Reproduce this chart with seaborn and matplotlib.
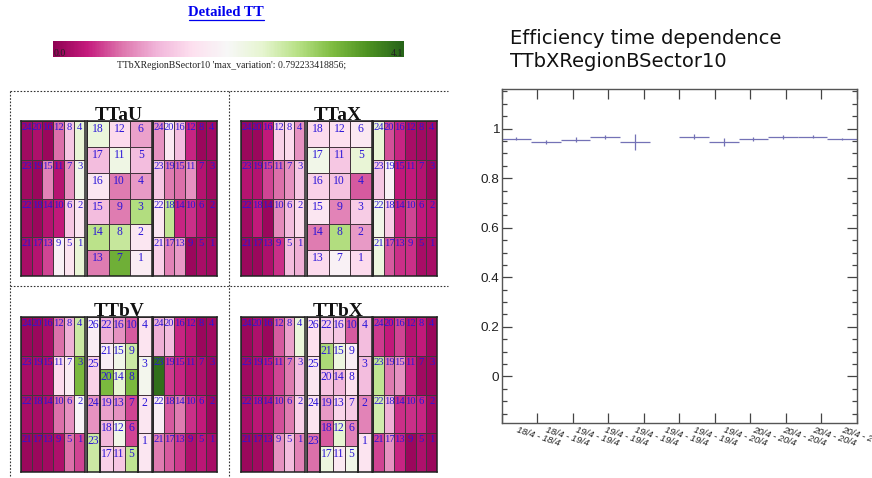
import numpy as np
import matplotlib
matplotlib.use("Agg")
import matplotlib.pyplot as plt
from matplotlib.lines import Line2D
from matplotlib.cm import ScalarMappable
from matplotlib.colors import Normalize
from matplotlib.ticker import MultipleLocator
import seaborn as sns

W, H = 872, 478
SCALE_MAX = 4.1

# cell numbers
side_labels = [[24, 20, 16, 12, 8, 4], [23, 19, 15, 11, 7, 3], [22, 18, 14, 10, 6, 2], [21, 17, 13, 9, 5, 1]]
mid_a_labels = [[18, 12, 6], [17, 11, 5], [16, 10, 4], [15, 9, 3], [14, 8, 2], [13, 7, 1]]
mid_b_labels = [[22, 16, 10], [21, 15, 9], [20, 14, 8], [19, 13, 7], [18, 12, 6], [17, 11, 5]]
outer_left_labels = [[26], [25], [24], [23]]
outer_right_labels = [[4], [3], [2], [1]]

# TTaU
tau_left = [[.15, .25, .1, .8, 1.4, 2.4], [.15, .1, .9, .3, 1.0, 2.2], [.15, .1, .3, .4, 1.4, 1.75], [.2, .3, .6, 1.95, 1.7, 2.4]]
tau_mid = [[2.35, 1.6, 1.1], [1.3, 2.25, 1.3], [1.75, .85, 1.05], [1.3, .85, 2.9], [2.85, 2.75, 1.75], [.85, 3.4, 1.85]]
tau_right = [[1.0, 1.8, 1.3, .45, .1, .15], [1.4, .85, .8, 1.0, .3, .15], [1.75, 2.8, .45, .5, .3, .1], [1.5, .9, 1.05, .1, .2, .15]]

# TTaX
tax_left = [[.1, .1, .4, 1.5, 1.6, 1.0], [.3, .3, .6, .8, 1.0, 1.4], [.15, .4, .1, .95, 1.3, 1.6], [.1, .1, .25, .5, 1.3, 1.2]]
tax_mid = [[1.6, 1.65, 1.8], [2.2, 1.4, 2.4], [1.5, 1.35, .7], [1.75, .9, 1.45], [.85, 2.9, 1.05], [1.6, 1.95, 1.6]]
tax_right = [[2.4, .65, .45, .2, .15, .15], [1.4, 1.95, .4, .4, .3, .1], [2.2, 1.45, .45, .6, .4, .3], [2.3, .7, .5, .5, .2, .2]]

# TTbV
tbv_left = [[.1, .1, .2, .8, 1.2, 2.7], [.2, .2, .25, 1.6, 1.85, 3.3], [.2, .2, .25, .8, 1.0, 2.0], [.1, .1, .15, .25, .8, .6]]
tbv_outer_l = [[1.9], [1.5], [1.0], [2.7]]
tbv_mid = [[1.2, 1.0, .7], [1.9, 2.2, 2.7], [3.3, 2.45, 3.3], [1.1, 1.0, .6], [1.25, 2.2, .6], [1.5, 1.4, 2.8]]
tbv_outer_r = [[1.7], [2.15], [1.75], [1.75]]
tbv_right = [[1.2, 1.3, .45, .35, .1, .15], [4.0, .55, .45, .3, .25, .1], [1.9, .7, .85, .5, .4, .1], [.85, .7, .55, .25, .35, .2]]

# TTbX
tbx_left = [[.1, .25, .1, .7, 1.1, 2.35], [.15, .25, .35, .6, .85, 1.3], [.2, .35, .3, .65, .85, 1.5], [.1, .15, .2, 1.0, 1.3, .9]]
tbx_outer_l = [[1.65], [1.75], [1.7], [.8]]
tbx_mid = [[1.45, 1.4, .7], [2.95, 2.3, 1.9], [1.35, 1.25, 1.65], [1.05, 1.55, 1.45], [.7, 2.45, .9], [2.3, 1.8, 2.2]]
tbx_outer_r = [[1.3], [1.3], [.9], [1.7]]
tbx_right = [[.55, .4, .6, .3, .4, .1], [2.8, .85, 1.0, .45, .15, .1], [2.65, 1.2, .5, .5, .45, .15], [.6, 1.0, .45, .1, .25, .1]]

# efficiency per time bin (bin 6 has no measurement)
eff_values = [.96, .948, .956, .965, .946, np.nan, .968, .946, .96, .968, .968, .958]
eff_errors = [.007, .008, .011, .008, .032, np.nan, .009, .018, .008, .008, .006, .005]
time_labels = ["18/4 - 18/4", "18/4 - 19/4", "19/4 - 19/4", "19/4 - 19/4", "19/4 - 19/4", "19/4 - 19/4",
               "19/4 - 19/4", "19/4 - 20/4", "20/4 - 20/4", "20/4 - 20/4", "20/4 - 20/4", "20/4 - 20/4"]
y_ticks = [0, .2, .4, .6, .8, 1]

sns.set_theme(style="white")
plt.rcParams['font.family'] = ['Liberation Serif', 'DejaVu Sans']

fig = plt.figure(figsize=(W / 100, H / 100), dpi=100)


def px_axes(x0, y0, x1, y1):
    return fig.add_axes([x0 / W, 1 - y1 / H, (x1 - x0) / W, (y1 - y0) / H])


def block(x0, y0, x1, y1, vals, labels, size=8.4):
    ax = px_axes(x0, y0, x1, y1)
    sns.heatmap(np.array(vals), cmap="PiYG", vmin=0, vmax=SCALE_MAX, cbar=False, ax=ax,
                linewidths=.6, linecolor="#44343e", xticklabels=False, yticklabels=False)
    for i, row in enumerate(labels):
        for j, lab in enumerate(row):
            ax.annotate(str(lab), xy=(j + .5, i), xytext=(0, -1.5), textcoords="offset points",
                        ha="center", va="top", fontsize=size, color="#2a14d8")
    for s in ax.spines.values():
        s.set_visible(True)
        s.set_color("#222222")
        s.set_linewidth(1.1)
    return ax


def panel_a(x, y0, left, mid, right):
    block(x, y0, x + 64, y0 + 155, left, side_labels, size=7.6)
    block(x + 66, y0, x + 130.5, y0 + 155, mid, mid_a_labels)
    block(x + 132, y0, x + 196, y0 + 155, right, side_labels, size=7.6)


def panel_b(x, y0, left, outer_l, mid, outer_r, right):
    block(x, y0, x + 64, y0 + 155, left, side_labels, size=7.6)
    block(x + 66, y0, x + 79, y0 + 155, outer_l, outer_left_labels)
    block(x + 79, y0, x + 117, y0 + 155, mid, mid_b_labels)
    block(x + 117, y0, x + 130.5, y0 + 155, outer_r, outer_right_labels)
    block(x + 132, y0, x + 196, y0 + 155, right, side_labels, size=7.6)


panel_a(21, 121, tau_left, tau_mid, tau_right)
panel_a(241, 121, tax_left, tax_mid, tax_right)
panel_b(21, 317, tbv_left, tbv_outer_l, tbv_mid, tbv_outer_r, tbv_right)
panel_b(241, 317, tbx_left, tbx_outer_l, tbx_mid, tbx_outer_r, tbx_right)

# panel titles, sit right on the top of the blocks
for name, cx, base in [("TTaU", 119, 120), ("TTaX", 338, 120), ("TTbV", 119, 316), ("TTbX", 338, 316)]:
    fig.text(cx / W, 1 - base / H, name, ha="center", va="baseline",
             fontsize=14, fontweight="bold", color="#111111", zorder=5)

# dotted frame round the panels
for xs, ys in [((10, 448), (91, 91)), ((10, 448), (286, 286)), ((10, 10), (91, 478)), ((229, 229), (91, 478))]:
    fig.add_artist(Line2D([x / W for x in xs], [1 - y / H for y in ys], color="#333333",
                          lw=.8, ls=(0, (1.5, 1.5))))

# page header
fig.text(226 / W, 1 - 13 / H, "Detailed TT", ha="center", va="center", fontsize=10.6,
         fontweight="bold", color="#0000ee")
fig.add_artist(Line2D([189 / W, 264 / W], [1 - 20 / H] * 2, color="#0000ee", lw=.9))

cax = px_axes(53, 41, 404, 57)
cb = fig.colorbar(ScalarMappable(Normalize(0, SCALE_MAX), "PiYG"), cax=cax, orientation="horizontal")
cb.solids.set_edgecolor("face")
cax.set_xticks([])
for s in cax.spines.values():
    s.set_visible(False)
cax.text(.002, .25, "0.0", transform=cax.transAxes, ha="left", va="center", fontsize=7, color="#222222")
cax.text(.998, .25, "4.1", transform=cax.transAxes, ha="right", va="center", fontsize=7, color="#222222")
fig.text(232 / W, 1 - 66 / H, "TTbXRegionBSector10 'max_variation': 0.792233418856;", ha="center",
         va="center", fontsize=7.05, color="#222222")

# efficiency plot
fig.text(510 / W, 1 - 44 / H, "Efficiency time dependence", family="DejaVu Sans", fontsize=14,
         ha="left", va="baseline", color="#111111")
fig.text(510 / W, 1 - 67 / H, "TTbXRegionBSector10", family="DejaVu Sans", fontsize=14,
         ha="left", va="baseline", color="#111111")

ax = px_axes(501.5, 89, 857, 423)
bins = np.arange(len(eff_values)) + .5
ax.errorbar(bins, eff_values, yerr=eff_errors, xerr=.5, fmt="none", ecolor="#7472b6", elinewidth=.9)
ax.set_xlim(0, len(eff_values))
ax.set_ylim(-.188, 1.16)
ax.set_yticks(y_ticks)
ax.set_yticklabels([f"{v:g}" for v in y_ticks], family="Liberation Sans", fontsize=9.7, color="#222222")
ax.yaxis.set_minor_locator(MultipleLocator(.05))
ax.xaxis.set_major_locator(MultipleLocator(1.2))
ax.set_xticklabels([])
ax.tick_params(axis="both", which="major", direction="in", length=7.4, width=.9, color="#444444", pad=1.5,
               left=True, right=True, top=True, bottom=True)
ax.tick_params(axis="y", which="minor", direction="in", length=3.7, width=.9, color="#444444",
               left=True, right=True)
for s in ax.spines.values():
    s.set_color("#555555")
    s.set_linewidth(1)
for x, lab in zip(bins, time_labels):
    ax.annotate(lab, xy=(x, 0), xycoords=ax.get_xaxis_transform(), xytext=(1, -2), textcoords="offset points",
                rotation=-18, rotation_mode="anchor", ha="left", va="top", family="Liberation Sans",
                style="italic", fontsize=6.8, color="#222222", annotation_clip=False)

fig.savefig("out.png", dpi=100)
